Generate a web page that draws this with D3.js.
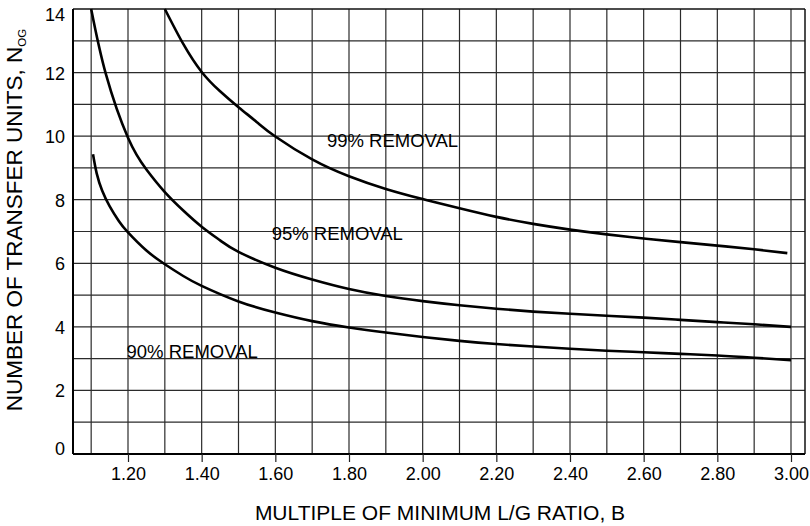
<!DOCTYPE html>
<html>
<head>
<meta charset="utf-8">
<script src="https://cdn.jsdelivr.net/npm/d3@7/dist/d3.min.js"></script>
<style>
  html, body { margin: 0; padding: 0; background: #fff; }
  svg { display: block; font-family: "Liberation Sans", Arial, Helvetica, sans-serif; }
</style>
</head>
<body>
<svg id="chart" width="810" height="526"></svg>
<script>
// ---- data ----
const xTickValues = [1.20, 1.40, 1.60, 1.80, 2.00, 2.20, 2.40, 2.60, 2.80, 3.00];
const xGridValues = [1.10, 1.20, 1.30, 1.40, 1.50, 1.60, 1.70, 1.80, 1.90, 2.00, 2.10, 2.20, 2.30, 2.40, 2.50, 2.60, 2.70, 2.80, 2.90, 3.00];
const yTickValues = [0, 2, 4, 6, 8, 10, 12, 14];
const yGridValues = [1, 2, 3, 4, 5, 6, 7, 8, 9, 10, 11, 12, 13];

const b99 = [1.30, 1.35, 1.40, 1.45, 1.50, 1.55, 1.60, 1.70, 1.80, 1.90, 2.00, 2.10, 2.20, 2.30, 2.40, 2.50, 2.60, 2.70, 2.80, 2.90, 2.99];
const n99 = [14.0, 12.9, 12.02, 11.41, 10.91, 10.44, 9.99, 9.27, 8.74, 8.34, 8.02, 7.73, 7.46, 7.24, 7.06, 6.91, 6.78, 6.665, 6.555, 6.44, 6.32];

const b95 = [1.10, 1.14, 1.20, 1.25, 1.30, 1.35, 1.40, 1.45, 1.50, 1.60, 1.70, 1.80, 1.90, 2.00, 2.10, 2.20, 2.30, 2.40, 2.50, 2.60, 2.70, 2.80, 2.90, 3.00];
const n95 = [14.0, 11.95, 9.95, 8.95, 8.24, 7.66, 7.15, 6.72, 6.36, 5.86, 5.49, 5.19, 4.97, 4.81, 4.68, 4.57, 4.48, 4.41, 4.35, 4.29, 4.22, 4.15, 4.08, 4.00];

const b90 = [1.105, 1.115, 1.13, 1.15, 1.175, 1.20, 1.25, 1.30, 1.35, 1.40, 1.50, 1.60, 1.70, 1.80, 1.90, 2.00, 2.10, 2.20, 2.30, 2.40, 2.50, 2.60, 2.70, 2.80, 2.90, 3.00];
const n90 = [9.43, 8.83, 8.28, 7.80, 7.33, 6.97, 6.40, 5.97, 5.60, 5.29, 4.80, 4.45, 4.18, 3.98, 3.82, 3.68, 3.56, 3.46, 3.38, 3.31, 3.25, 3.20, 3.15, 3.10, 3.03, 2.95];

const seriesNames = ["99% REMOVAL", "95% REMOVAL", "90% REMOVAL"];
const labelB = [1.74, 1.59, 1.196];
const labelN = [9.67, 6.73, 3.01];

const xTitle = "MULTIPLE OF MINIMUM L/G RATIO, B";
const yTitleMain = "NUMBER OF TRANSFER UNITS, N";
const yTitleSub = "OG";

// ---- layout ----
const svg = d3.select("#chart");
const pLeft = 73, pRight = 805, pTop = 9, pBottom = 454;

const x = d3.scaleLinear().domain([1.20, 3.00]).range([128, 791]);
const xMin = x.invert(pLeft), xMax = x.invert(pRight);
x.domain([xMin, xMax]).range([pLeft, pRight]);
const y = d3.scaleLinear().domain([0, 14]).range([pBottom, pTop]);

svg.append("rect").attr("width", 810).attr("height", 526).attr("fill", "#fff");

// grid
const grid = svg.append("g").attr("stroke", "#2b2b2b").attr("stroke-width", 1.2);
grid.selectAll("line.v").data(xGridValues).join("line").attr("class", "v")
  .attr("x1", d => x(d)).attr("x2", d => x(d))
  .attr("y1", pTop).attr("y2", pBottom);
grid.selectAll("line.h").data(yGridValues).join("line").attr("class", "h")
  .attr("x1", pLeft).attr("x2", pRight)
  .attr("y1", d => y(d)).attr("y2", d => y(d));

// frame
svg.append("line").attr("x1", pLeft).attr("x2", pRight).attr("y1", y(14)).attr("y2", y(14))
  .attr("stroke", "#111").attr("stroke-width", 1.5);
svg.append("line").attr("x1", pRight).attr("x2", pRight).attr("y1", pTop).attr("y2", pBottom)
  .attr("stroke", "#111").attr("stroke-width", 1.5);

// x axis
const xAxis = d3.axisBottom(x).tickValues(xTickValues).tickSize(8).tickPadding(5)
  .tickFormat(d3.format(".2f"));
const gx = svg.append("g").attr("transform", `translate(0,${pBottom})`).call(xAxis);
gx.select(".domain").attr("stroke", "#000").attr("stroke-width", 2)
  .attr("d", `M${pLeft},0H${pRight}`);
gx.selectAll(".tick line").attr("stroke", "#222").attr("stroke-width", 1.2);
gx.selectAll(".tick text").attr("font-size", 18).attr("fill", "#000")
  .attr("font-family", "'Liberation Sans', Arial, sans-serif")
  .attr("dy", null).attr("y", 26);

// y axis
const yAxis = d3.axisLeft(y).tickValues(yTickValues).tickSize(0).tickPadding(8);
const gy = svg.append("g").attr("transform", `translate(${pLeft},0)`).call(yAxis);
gy.select(".domain").attr("stroke", "#000").attr("stroke-width", 2)
  .attr("d", `M0,${pTop}V${pBottom}`);
gy.selectAll(".tick text").attr("font-size", 18).attr("fill", "#000")
  .attr("font-family", "'Liberation Sans', Arial, sans-serif")
  .attr("dy", d => d === 14 ? "0.65em" : d === 0 ? "0em" : "0.36em");

// curves
const line = d3.line().x(d => x(d[0])).y(d => y(d[1])).curve(d3.curveNatural);
const series = [d3.zip(b99, n99), d3.zip(b95, n95), d3.zip(b90, n90)];
svg.append("g").selectAll("path").data(series).join("path")
  .attr("d", line).attr("fill", "none").attr("stroke", "#000").attr("stroke-width", 2.6);

// curve labels
svg.append("g").selectAll("text").data(seriesNames).join("text")
  .attr("x", (d, i) => x(labelB[i])).attr("y", (d, i) => y(labelN[i]))
  .attr("font-size", 18.5).attr("fill", "#000").text(d => d);

// axis titles
svg.append("text").attr("x", 440).attr("y", 520).attr("text-anchor", "middle")
  .attr("font-size", 21).attr("fill", "#000").text(xTitle);

const yt = svg.append("text").attr("transform", "translate(22,220) rotate(-90)")
  .attr("text-anchor", "middle").attr("font-size", 22.5).attr("fill", "#000");
yt.append("tspan").text(yTitleMain);
yt.append("tspan").attr("font-size", 11.5).attr("dy", 4).text(yTitleSub);
</script>
</body>
</html>
